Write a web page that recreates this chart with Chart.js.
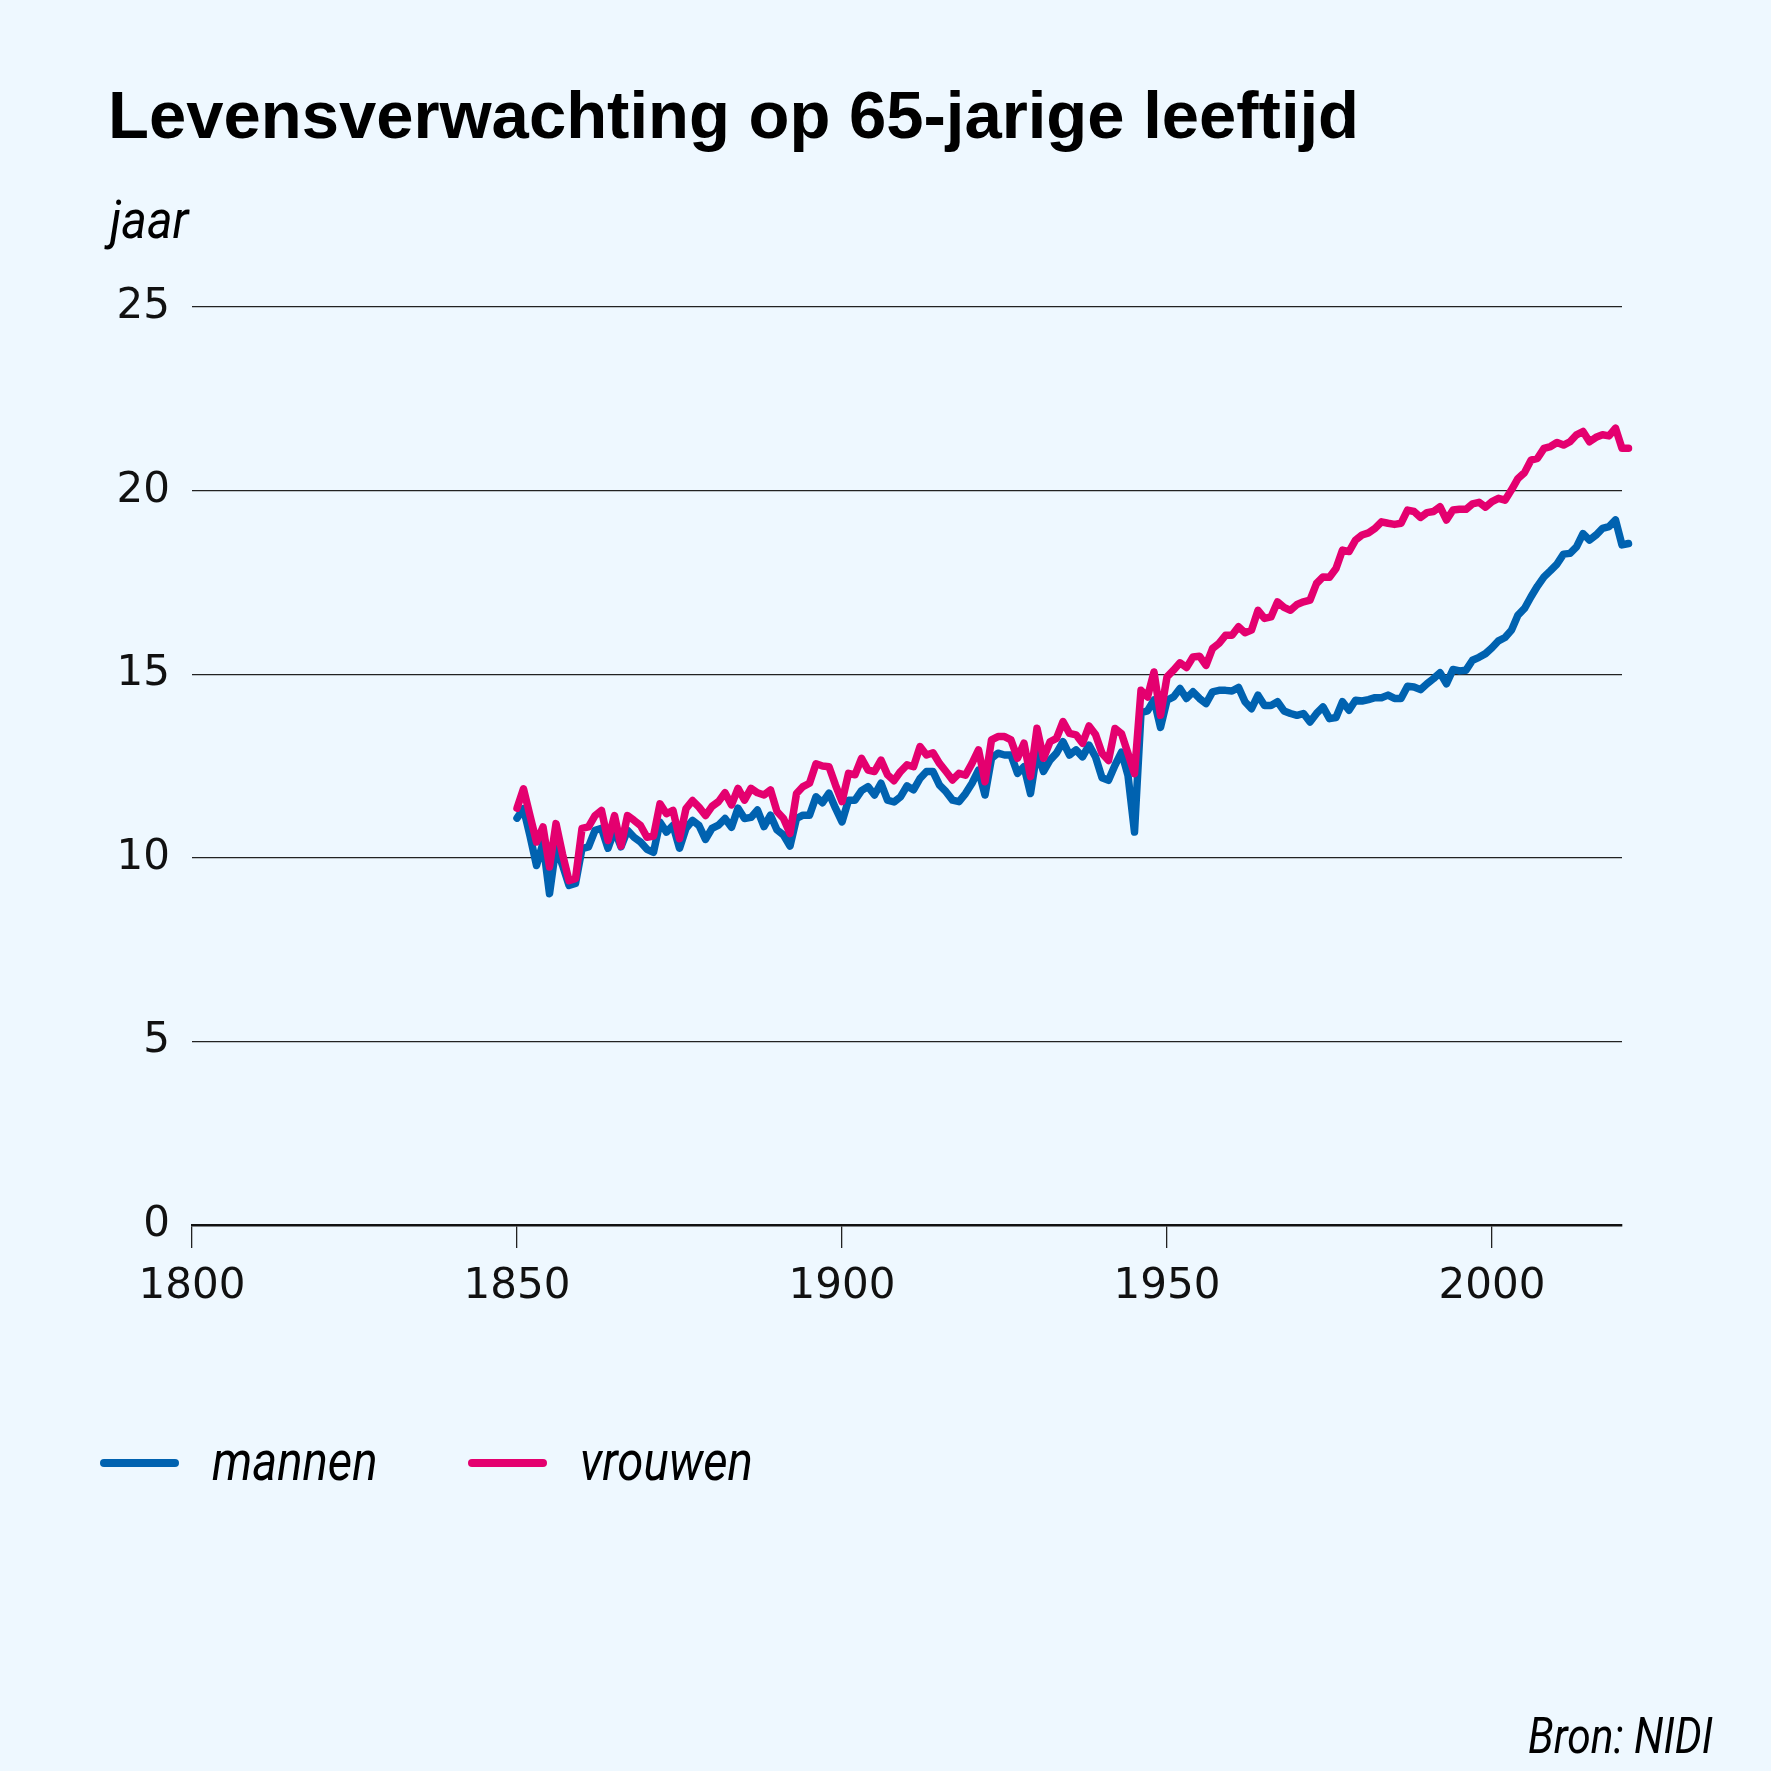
<!DOCTYPE html>
<html lang="nl">
<head>
<meta charset="utf-8">
<title>Levensverwachting op 65-jarige leeftijd</title>
<script src="https://cdn.jsdelivr.net/npm/chart.js@4.4.1/dist/chart.umd.min.js"></script>
<style>
  html, body { margin: 0; padding: 0; background: #eef8ff; }
  #wrap { position: relative; width: 1771px; height: 1771px; }
</style>
</head>
<body>
<div id="wrap"><canvas id="lifeChart"></canvas></div>
<script>
// chart texts
const titleText = 'Levensverwachting op 65-jarige leeftijd';
const unitText = 'jaar';
const sourceText = 'Bron: NIDI';

// x axis: years 1850 - 2021
const years = [
  1850, 1851, 1852, 1853, 1854, 1855, 1856, 1857, 1858, 1859,
  1860, 1861, 1862, 1863, 1864, 1865, 1866, 1867, 1868, 1869,
  1870, 1871, 1872, 1873, 1874, 1875, 1876, 1877, 1878, 1879,
  1880, 1881, 1882, 1883, 1884, 1885, 1886, 1887, 1888, 1889,
  1890, 1891, 1892, 1893, 1894, 1895, 1896, 1897, 1898, 1899,
  1900, 1901, 1902, 1903, 1904, 1905, 1906, 1907, 1908, 1909,
  1910, 1911, 1912, 1913, 1914, 1915, 1916, 1917, 1918, 1919,
  1920, 1921, 1922, 1923, 1924, 1925, 1926, 1927, 1928, 1929,
  1930, 1931, 1932, 1933, 1934, 1935, 1936, 1937, 1938, 1939,
  1940, 1941, 1942, 1943, 1944, 1945, 1946, 1947, 1948, 1949,
  1950, 1951, 1952, 1953, 1954, 1955, 1956, 1957, 1958, 1959,
  1960, 1961, 1962, 1963, 1964, 1965, 1966, 1967, 1968, 1969,
  1970, 1971, 1972, 1973, 1974, 1975, 1976, 1977, 1978, 1979,
  1980, 1981, 1982, 1983, 1984, 1985, 1986, 1987, 1988, 1989,
  1990, 1991, 1992, 1993, 1994, 1995, 1996, 1997, 1998, 1999,
  2000, 2001, 2002, 2003, 2004, 2005, 2006, 2007, 2008, 2009,
  2010, 2011, 2012, 2013, 2014, 2015, 2016, 2017, 2018, 2019,
  2020, 2021
];

// life expectancy at 65, men
const mannen = [
  11.08, 11.34, 10.60, 9.79, 10.40, 9.02, 10.30, 9.80, 9.25, 9.30,
  10.25, 10.30, 10.75, 10.80, 10.26, 10.75, 10.30, 10.75, 10.56, 10.43,
  10.23, 10.15, 10.97, 10.70, 10.88, 10.26, 10.80, 11.02, 10.88, 10.50,
  10.80, 10.89, 11.07, 10.83, 11.35, 11.07, 11.10, 11.30, 10.85, 11.16,
  10.76, 10.62, 10.32, 11.07, 11.16, 11.16, 11.66, 11.50, 11.76, 11.35,
  10.98, 11.57, 11.57, 11.83, 11.94, 11.71, 12.03, 11.57, 11.52, 11.66,
  11.96, 11.85, 12.16, 12.35, 12.35, 11.98, 11.80, 11.57, 11.53, 11.75,
  12.03, 12.39, 11.71, 12.71, 12.85, 12.80, 12.80, 12.30, 12.48, 11.75,
  12.89, 12.35, 12.66, 12.85, 13.16, 12.80, 12.94, 12.75, 13.07, 12.75,
  12.18, 12.11, 12.52, 12.88, 12.24, 10.70, 13.95, 14.00, 14.30, 13.55,
  14.29, 14.38, 14.61, 14.34, 14.52, 14.34, 14.20, 14.52, 14.56, 14.56,
  14.54, 14.64, 14.25, 14.06, 14.43, 14.15, 14.15, 14.25, 14.00, 13.93,
  13.88, 13.93, 13.70, 13.93, 14.11, 13.79, 13.82, 14.25, 14.02, 14.29,
  14.27, 14.31, 14.36, 14.36, 14.43, 14.34, 14.34, 14.67, 14.65, 14.58,
  14.74, 14.88, 15.04, 14.74, 15.13, 15.09, 15.11, 15.38, 15.46, 15.56,
  15.72, 15.91, 16.00, 16.20, 16.61, 16.79, 17.11, 17.40, 17.65, 17.82,
  18.00, 18.27, 18.29, 18.47, 18.83, 18.65, 18.79, 18.97, 19.02, 19.20,
  18.52, 18.56
];

// life expectancy at 65, women
const vrouwen = [
  11.35, 11.88, 11.15, 10.43, 10.84, 9.75, 10.93, 10.10, 9.38, 9.43,
  10.80, 10.84, 11.15, 11.29, 10.47, 11.15, 10.32, 11.15, 11.02, 10.88,
  10.56, 10.59, 11.47, 11.20, 11.29, 10.52, 11.34, 11.56, 11.38, 11.15,
  11.40, 11.53, 11.77, 11.44, 11.89, 11.57, 11.89, 11.77, 11.71, 11.85,
  11.26, 11.07, 10.66, 11.75, 11.94, 12.03, 12.56, 12.50, 12.48, 11.98,
  11.53, 12.30, 12.26, 12.71, 12.39, 12.35, 12.66, 12.26, 12.10, 12.35,
  12.53, 12.48, 13.03, 12.80, 12.86, 12.57, 12.35, 12.12, 12.30, 12.25,
  12.57, 12.94, 12.07, 13.21, 13.30, 13.30, 13.21, 12.71, 13.12, 12.21,
  13.53, 12.71, 13.16, 13.25, 13.71, 13.39, 13.35, 13.12, 13.59, 13.36,
  12.85, 12.65, 13.52, 13.38, 12.84, 12.29, 14.56, 14.38, 15.06, 13.88,
  14.93, 15.11, 15.31, 15.18, 15.47, 15.49, 15.24, 15.70, 15.84, 16.06,
  16.06, 16.29, 16.13, 16.20, 16.74, 16.52, 16.56, 16.97, 16.82, 16.74,
  16.90, 16.97, 17.02, 17.47, 17.65, 17.64, 17.88, 18.38, 18.34, 18.65,
  18.79, 18.85, 18.97, 19.15, 19.11, 19.08, 19.11, 19.47, 19.43, 19.27,
  19.40, 19.43, 19.56, 19.20, 19.47, 19.49, 19.49, 19.64, 19.68, 19.55,
  19.70, 19.79, 19.74, 20.02, 20.33, 20.49, 20.83, 20.88, 21.15, 21.20,
  21.31, 21.24, 21.33, 21.52, 21.61, 21.33, 21.45, 21.52, 21.49, 21.70,
  21.15, 21.15
];

const seriesNames = ['mannen', 'vrouwen'];
const seriesColors = ['#0062b0', '#e4006f'];

const numberFont = '"DejaVu Sans", "Noto Sans", sans-serif';
const italicFont = '"Roboto", "Noto Sans", sans-serif';

const toPoints = (values) => values.map((v, i) => ({ x: years[i], y: v }));

// the reference uses a condensed italic, so squeeze Roboto italic a bit
function drawCondensed(ctx, text, x, y, squeeze) {
  ctx.save();
  ctx.translate(x, y);
  ctx.scale(squeeze, 1);
  ctx.fillText(text, 0, 0);
  ctx.restore();
}

// background, title, unit label, legend and source drawn on the canvas
const decorations = {
  id: 'decorations',
  beforeDraw(chart) {
    const ctx = chart.ctx;
    ctx.save();
    ctx.fillStyle = '#eef8ff';
    ctx.fillRect(0, 0, chart.width, chart.height);
    ctx.restore();
  },
  afterDraw(chart) {
    const ctx = chart.ctx;
    ctx.save();
    ctx.fillStyle = '#000';
    ctx.textBaseline = 'alphabetic';
    ctx.textAlign = 'left';

    ctx.font = 'bold 67px "Liberation Sans", sans-serif';
    ctx.fillText(titleText, 108, 138);

    ctx.font = 'italic 54px ' + italicFont;
    drawCondensed(ctx, unitText, 110, 238, 0.9);

    // legend
    const itemX = [104, 472];
    chart.data.datasets.forEach((ds, i) => {
      const x = itemX[i];
      ctx.strokeStyle = ds.borderColor;
      ctx.lineWidth = 8;
      ctx.lineCap = 'round';
      ctx.beginPath();
      ctx.moveTo(x, 1463);
      ctx.lineTo(x + 71, 1463);
      ctx.stroke();
      ctx.fillStyle = '#000';
      ctx.font = 'italic 55px ' + italicFont;
      drawCondensed(ctx, ds.label, x + 108, 1480, 0.86);
    });

    ctx.font = 'italic 50px ' + italicFont;
    ctx.textAlign = 'right';
    drawCondensed(ctx, sourceText, 1713, 1753, 0.85);
    ctx.restore();
  }
};

new Chart(document.getElementById('lifeChart'), {
  type: 'line',
  data: {
    datasets: [
      {
        label: seriesNames[0],
        data: toPoints(mannen),
        borderColor: seriesColors[0],
        order: 2
      },
      {
        label: seriesNames[1],
        data: toPoints(vrouwen),
        borderColor: seriesColors[1],
        order: 1
      }
    ]
  },
  options: {
    responsive: true,
    maintainAspectRatio: false,
    devicePixelRatio: 1,
    animation: false,
    layout: { padding: { left: 0, top: 307, right: 149, bottom: 0 } },
    datasets: {
      line: {
        borderWidth: 7.5,
        pointRadius: 0,
        tension: 0,
        fill: false,
        clip: false,
        borderJoinStyle: 'round',
        borderCapStyle: 'round'
      }
    },
    plugins: {
      legend: { display: false },
      tooltip: { enabled: false }
    },
    scales: {
      x: {
        type: 'linear',
        bounds: 'data',
        // axis runs 1800-2020; the 2021 value is drawn just past the edge
        afterDataLimits(scale) { scale.min = 1800; scale.max = 2020; },
        afterBuildTicks(scale) { scale.ticks = scale.ticks.filter(t => t.value <= 2000); },
        afterFit(scale) { scale.height = 546; },
        border: { display: true, color: '#111', width: 2.5 },
        grid: {
          drawOnChartArea: false,
          drawTicks: true,
          tickLength: 23,
          color: '#222',
          lineWidth: 1.3
        },
        ticks: {
          stepSize: 50,
          padding: 14,
          color: '#111',
          maxRotation: 0,
          font: { family: numberFont, size: 42 },
          callback: (v) => String(v)
        }
      },
      y: {
        min: 0,
        max: 25,
        afterFit(scale) { scale.width = 192; },
        border: { display: false },
        grid: {
          drawTicks: false,
          color: '#222',
          lineWidth: 1.3
        },
        ticks: {
          stepSize: 5,
          padding: 22,
          color: '#111',
          font: { family: numberFont, size: 42 }
        }
      }
    }
  },
  plugins: [decorations]
});
</script>
</body>
</html>
